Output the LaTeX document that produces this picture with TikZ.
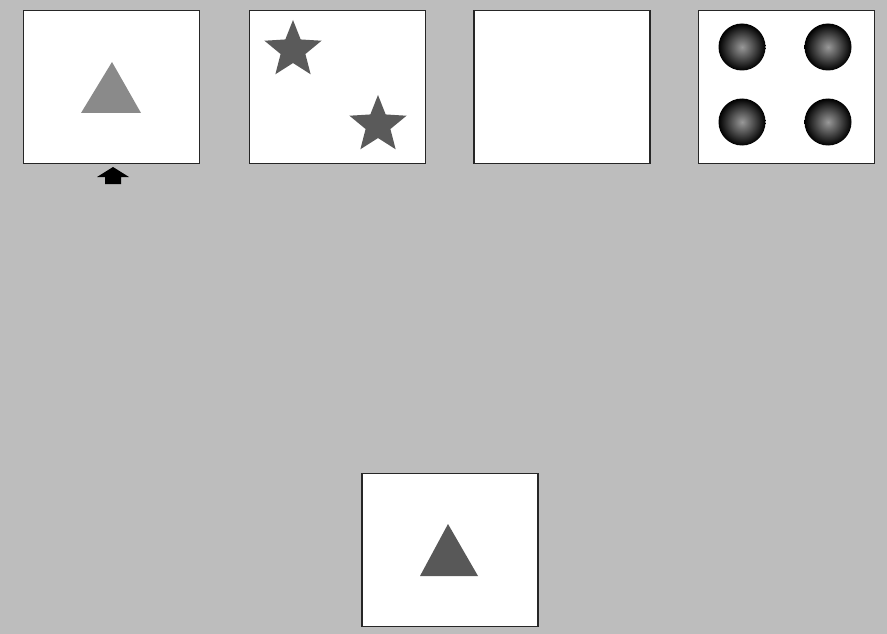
\documentclass[tikz,border=0pt]{standalone}
\usetikzlibrary{shapes.geometric}
\definecolor{bgray}{HTML}{BDBDBD}
\definecolor{tri}{HTML}{8A8A8A}
\definecolor{trid}{HTML}{585858}
\definecolor{starc}{HTML}{5A5A5A}
\begin{document}
\begin{tikzpicture}[x=1pt,y=-1pt,
  card/.style={draw=black!85,line width=1.8pt,fill=white,minimum width=176pt,minimum height=153pt,inner sep=0pt},
  starshape/.style={star,star points=5,star point ratio=2.3,fill=starc,draw=none,minimum size=60pt,inner sep=0pt},
  dot/.style={circle,minimum size=47pt,inner sep=0pt,draw=none,inner color=black!40,outer color=black}]
\fill[bgray] (0,0) rectangle (887,634);
\useasboundingbox (0,0) rectangle (887,634);
% cards
\node[card] (c1) at (111.5,87) {};
\node[card] (c2) at (337.5,87) {};
\node[card] (c3) at (562,87) {};
\node[card] (c4) at (786.5,87) {};
\node[card] (c5) at (450,550) {};
% triangle in card 1
\fill[tri] (112,62) -- (141,113) -- (81,113) -- cycle;
% stars in card 2
\node[starshape] (s1) at (293,50) {};
\node[starshape] (s2) at (378,125) {};
% dots in card 4
\node[dot] (d1) at (742,47) {};
\node[dot] (d2) at (828,47) {};
\node[dot] (d3) at (742,122) {};
\node[dot] (d4) at (828,122) {};
% pointer arrow under card 1
\fill[black] (113,167) -- (129,177) -- (121,177) -- (121,184) -- (105,184) -- (105,177) -- (97,177) -- cycle;
% triangle in bottom card
\fill[trid] (448,524) -- (478,576) -- (420,576) -- cycle;
\end{tikzpicture}
\end{document}
